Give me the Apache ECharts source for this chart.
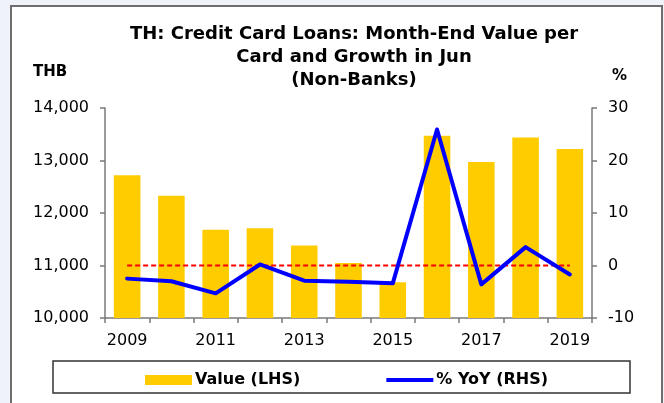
<!DOCTYPE html>
<html>
<head>
<meta charset="utf-8">
<script src="https://cdn.jsdelivr.net/npm/echarts@6/dist/echarts.min.js"></script>
<style>
html,body{margin:0;padding:0;background:#f0f2fa;}
#chart{width:664px;height:403px;}
</style>
</head>
<body>
<div id="chart"></div>
<script>
const categories = ['2009','2010','2011','2012','2013','2014','2015','2016','2017','2018','2019'];
const valueLHS = [12720, 12330, 11680, 11710, 11380, 11050, 10680, 13470, 12970, 13440, 13220];
const yoyRHS = [-2.5, -3.0, -5.3, 0.2, -2.9, -3.1, -3.4, 25.9, -3.6, 3.5, -1.7];
const zeroRef = [0, 0, 0, 0, 0, 0, 0, 0, 0, 0, 0];
const leftTicks = {min: 10000, max: 14000, interval: 1000};
const rightTicks = {min: -10, max: 30, interval: 10};

const FONT = '"DejaVu Sans", "Liberation Sans", Arial, sans-serif';
const chart = echarts.init(document.getElementById('chart'), null, {renderer: 'canvas'});

const axisGray = '#7a7a7a';
chart.setOption({
  backgroundColor: '#f0f2fa',
  animation: false,
  title: {
    text: 'TH: Credit Card Loans: Month-End Value per\nCard and Growth in Jun\n(Non-Banks)',
    left: 349, top: 18, textAlign: 'center',
    textStyle: {fontFamily: FONT, fontWeight: 'bold', fontSize: 18, lineHeight: 23, color: '#000'}
  },
  graphic: [
    {type: 'rect', z: -10, shape: {x: 11, y: 6, width: 651, height: 420},
     style: {fill: '#ffffff', stroke: '#6e6e6e', lineWidth: 2}},
    {type: 'rect', z: -5, shape: {x: 53, y: 361, width: 577, height: 32},
     style: {fill: '#ffffff', stroke: '#333333', lineWidth: 1.5}},
    {type: 'text', left: 33, top: 65,
     style: {text: 'THB', font: 'bold 15px ' + FONT, fill: '#000'}},
    {type: 'text', left: 612, top: 69,
     style: {text: '%', font: 'bold 15px ' + FONT, fill: '#000'}}
  ],
  legend: {
    left: 140, top: 367,
    itemGap: 86, itemWidth: 47, itemHeight: 10,
    textStyle: {fontFamily: FONT, fontWeight: 'bold', fontSize: 16, color: '#000', padding: [0,0,0,-2]},
    data: [
      {name: 'Value (LHS)', icon: 'rect'},
      {name: '% YoY (RHS)', icon: 'path://M0,0 H48 V4 H0 Z'}
    ]
  },
  grid: {left: 105, right: 72, top: 108, bottom: 85, containLabel: false},
  xAxis: {
    type: 'category', data: categories, boundaryGap: true,
    axisLine: {onZero: false, lineStyle: {color: axisGray, width: 1.5}},
    axisTick: {show: true, interval: 0, length: 5, lineStyle: {color: axisGray, width: 1.5}},
    axisLabel: {interval: 1, margin: 15, fontFamily: FONT, fontSize: 16, color: '#000'},
    splitLine: {show: false}
  },
  yAxis: [
    {type: 'value', position: 'left', min: leftTicks.min, max: leftTicks.max, interval: leftTicks.interval,
     axisLine: {show: true, lineStyle: {color: axisGray, width: 1.5}},
     axisTick: {show: true, length: 5, lineStyle: {color: axisGray, width: 1.5}},
     axisLabel: {margin: 16, fontFamily: FONT, fontSize: 16, color: '#000',
       formatter: v => v.toString().replace(/\B(?=(\d{3})+(?!\d))/g, ',')},
     splitLine: {show: false}},
    {type: 'value', position: 'right', min: rightTicks.min, max: rightTicks.max, interval: rightTicks.interval,
     axisLine: {show: true, lineStyle: {color: axisGray, width: 1.5}},
     axisTick: {show: true, length: 5, lineStyle: {color: axisGray, width: 1.5}},
     axisLabel: {margin: 16, fontFamily: FONT, fontSize: 16, color: '#000'},
     splitLine: {show: false}}
  ],
  series: [
    {name: 'Value (LHS)', type: 'bar', yAxisIndex: 0, data: valueLHS,
     barCategoryGap: '40%', itemStyle: {color: '#FFCC00'}},
    {name: 'zero', type: 'line', yAxisIndex: 1, data: zeroRef, symbol: 'none', silent: true,
     lineStyle: {color: '#FF0000', width: 2, type: [5, 3]}, z: 3},
    {name: '% YoY (RHS)', type: 'line', yAxisIndex: 1, data: yoyRHS, symbol: 'none',
     itemStyle: {color: '#0000FF'},
     lineStyle: {color: '#0000FF', width: 4, join: 'round', cap: 'round'}, z: 4}
  ]
});
</script>
</body>
</html>
